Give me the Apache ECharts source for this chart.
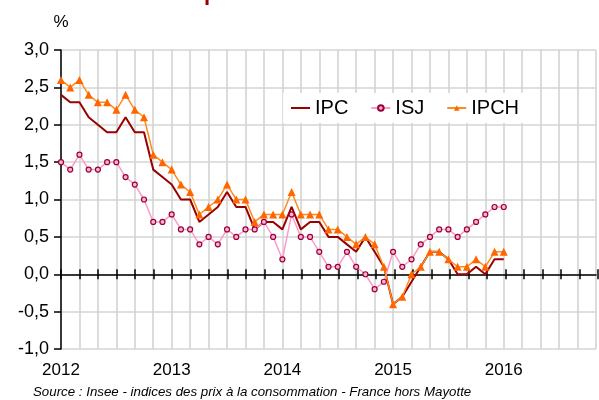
<!DOCTYPE html>
<html>
<head>
<meta charset="utf-8">
<script src="https://cdn.jsdelivr.net/npm/echarts@6/dist/echarts.min.js"></script>
<style>
html, body { margin: 0; padding: 0; background: #fff; }
#chart { width: 599px; height: 400px; }
</style>
</head>
<body>
<div id="chart"></div>
<script>
// glissement annuel, janvier 2012 -> janvier 2016 (un point par mois)
var years = ['2012', '2013', '2014', '2015', '2016'];
var seriesNames = ['IPC', 'ISJ', 'IPCH'];

var ipc = [2.4, 2.3, 2.3, 2.1, 2.0, 1.9, 1.9, 2.1, 1.9, 1.9, 1.4, 1.3,
           1.2, 1.0, 1.0, 0.7, 0.8, 0.9, 1.1, 0.9, 0.9, 0.6, 0.7, 0.7,
           0.6, 0.9, 0.6, 0.7, 0.7, 0.5, 0.5, 0.4, 0.3, 0.5, 0.3, 0.1,
           -0.4, -0.3, -0.1, 0.1, 0.3, 0.3, 0.2, 0.0, 0.0, 0.1, 0.0, 0.2,
           0.2];
var isj = [1.5, 1.4, 1.6, 1.4, 1.4, 1.5, 1.5, 1.3, 1.2, 1.0, 0.7, 0.7,
           0.8, 0.6, 0.6, 0.4, 0.5, 0.4, 0.6, 0.5, 0.6, 0.6, 0.7, 0.5,
           0.2, 0.8, 0.5, 0.5, 0.3, 0.1, 0.1, 0.3, 0.1, 0.0, -0.2, -0.1,
           0.3, 0.1, 0.2, 0.4, 0.5, 0.6, 0.6, 0.5, 0.6, 0.7, 0.8, 0.9,
           0.9];
var ipch = [2.6, 2.5, 2.6, 2.4, 2.3, 2.3, 2.2, 2.4, 2.2, 2.1, 1.6, 1.5,
            1.4, 1.2, 1.1, 0.8, 0.9, 1.0, 1.2, 1.0, 1.0, 0.7, 0.8, 0.8,
            0.8, 1.1, 0.8, 0.8, 0.8, 0.6, 0.6, 0.5, 0.4, 0.5, 0.4, 0.1,
            -0.4, -0.3, 0.0, 0.1, 0.3, 0.3, 0.2, 0.1, 0.1, 0.2, 0.1, 0.3,
            0.3];

function toPoints(arr) {
    return arr.map(function (v, i) { return [i, v]; });
}

var chart = echarts.init(document.getElementById('chart'));

var gridColor = '#d4d4d4';

var option = {
    animation: false,
    textStyle: { fontFamily: 'Arial, "Liberation Sans", sans-serif' },
    grid: [
        { left: 61, right: 1, top: 50, bottom: 51, containLabel: false },
        // bande de 10px centrée sur le zéro : sert aux petites graduations
        { left: 61, right: 1, top: 269.25, height: 10, containLabel: false }
    ],
    legend: {
        data: [
            { name: 'IPC', icon: 'path://M0,0H19V2H0Z' },
            'ISJ',
            'IPCH'
        ],
        left: 283,
        top: 93,
        backgroundColor: '#fff',
        padding: [5, 8, 5, 8],
        itemGap: 22,
        itemWidth: 19,
        itemHeight: 7,
        textStyle: { fontSize: 20, color: '#000' }
    },
    xAxis: [
        {
            type: 'value',
            gridIndex: 0,
            min: 0,
            max: 58,
            interval: 2,
            position: 'bottom',
            axisLine: { show: false, onZero: false },
            axisTick: { show: false },
            splitLine: { show: true, lineStyle: { color: gridColor, width: 1.6 } },
            axisLabel: {
                fontSize: 17,
                color: '#000',
                margin: 13,
                formatter: function (v) {
                    return v % 12 === 0 ? (years[v / 12] || '') : '';
                }
            }
        },
        {
            type: 'value',
            gridIndex: 0,
            min: 0,
            max: 58,
            interval: 2,
            position: 'top',
            axisLine: { show: true, onZero: true, lineStyle: { color: '#000', width: 1.5 } },
            axisTick: { show: false },
            axisLabel: { show: false },
            splitLine: { show: false }
        },
        {
            type: 'value',
            gridIndex: 1,
            min: 0,
            max: 58,
            interval: 2,
            axisLine: { show: false },
            axisTick: { show: false },
            axisLabel: { show: false },
            splitLine: { show: true, lineStyle: { color: '#000', width: 1.5 } }
        }
    ],
    yAxis: [
        {
            type: 'value',
            gridIndex: 0,
            min: -1,
            max: 3,
            interval: 0.5,
            name: '%',
            nameLocation: 'end',
            nameGap: 19,
            nameTextStyle: { fontSize: 17, color: '#000', align: 'center' },
            axisLine: { show: true, onZero: false, lineStyle: { color: '#000', width: 1.5 } },
            axisTick: { show: true, length: 7, lineStyle: { color: '#000', width: 1.5 } },
            axisLabel: {
                fontSize: 18,
                color: '#000',
                margin: 12,
                formatter: function (v) { return v.toFixed(1).replace('.', ','); }
            },
            splitLine: { show: true, lineStyle: { color: gridColor, width: 1.6 } }
        },
        {
            type: 'value',
            gridIndex: 1,
            min: 0,
            max: 1,
            show: false
        }
    ],
    series: [
        {
            name: 'IPC',
            type: 'line',
            xAxisIndex: 0,
            yAxisIndex: 0,
            data: toPoints(ipc),
            symbol: 'none',
            lineStyle: { color: '#990000', width: 2 },
            itemStyle: { color: '#990000' }
        },
        {
            name: 'ISJ',
            type: 'line',
            xAxisIndex: 0,
            yAxisIndex: 0,
            data: toPoints(isj),
            symbol: 'circle',
            symbolSize: 5,
            lineStyle: { color: '#ff99cc', width: 1.5 },
            itemStyle: { color: '#ffb3d9', borderColor: '#990033', borderWidth: 1.2 }
        },
        {
            name: 'IPCH',
            type: 'line',
            xAxisIndex: 0,
            yAxisIndex: 0,
            data: toPoints(ipch),
            symbol: 'triangle',
            symbolSize: 8,
            lineStyle: { color: '#ff8c1a', width: 1.5 },
            itemStyle: { color: '#ff6600' }
        }
    ],
    graphic: [
        {
            type: 'text',
            left: 204,
            top: -17,
            style: { text: 'p', font: 'bold 22px Arial', fill: '#990000' }
        },
        {
            type: 'text',
            left: 33,
            top: 386,
            style: {
                text: 'Source : Insee - indices des prix à la consommation - France hors Mayotte',
                font: 'italic 13.3px Arial',
                fill: '#000'
            }
        }
    ]
};

chart.setOption(option);
</script>
</body>
</html>
